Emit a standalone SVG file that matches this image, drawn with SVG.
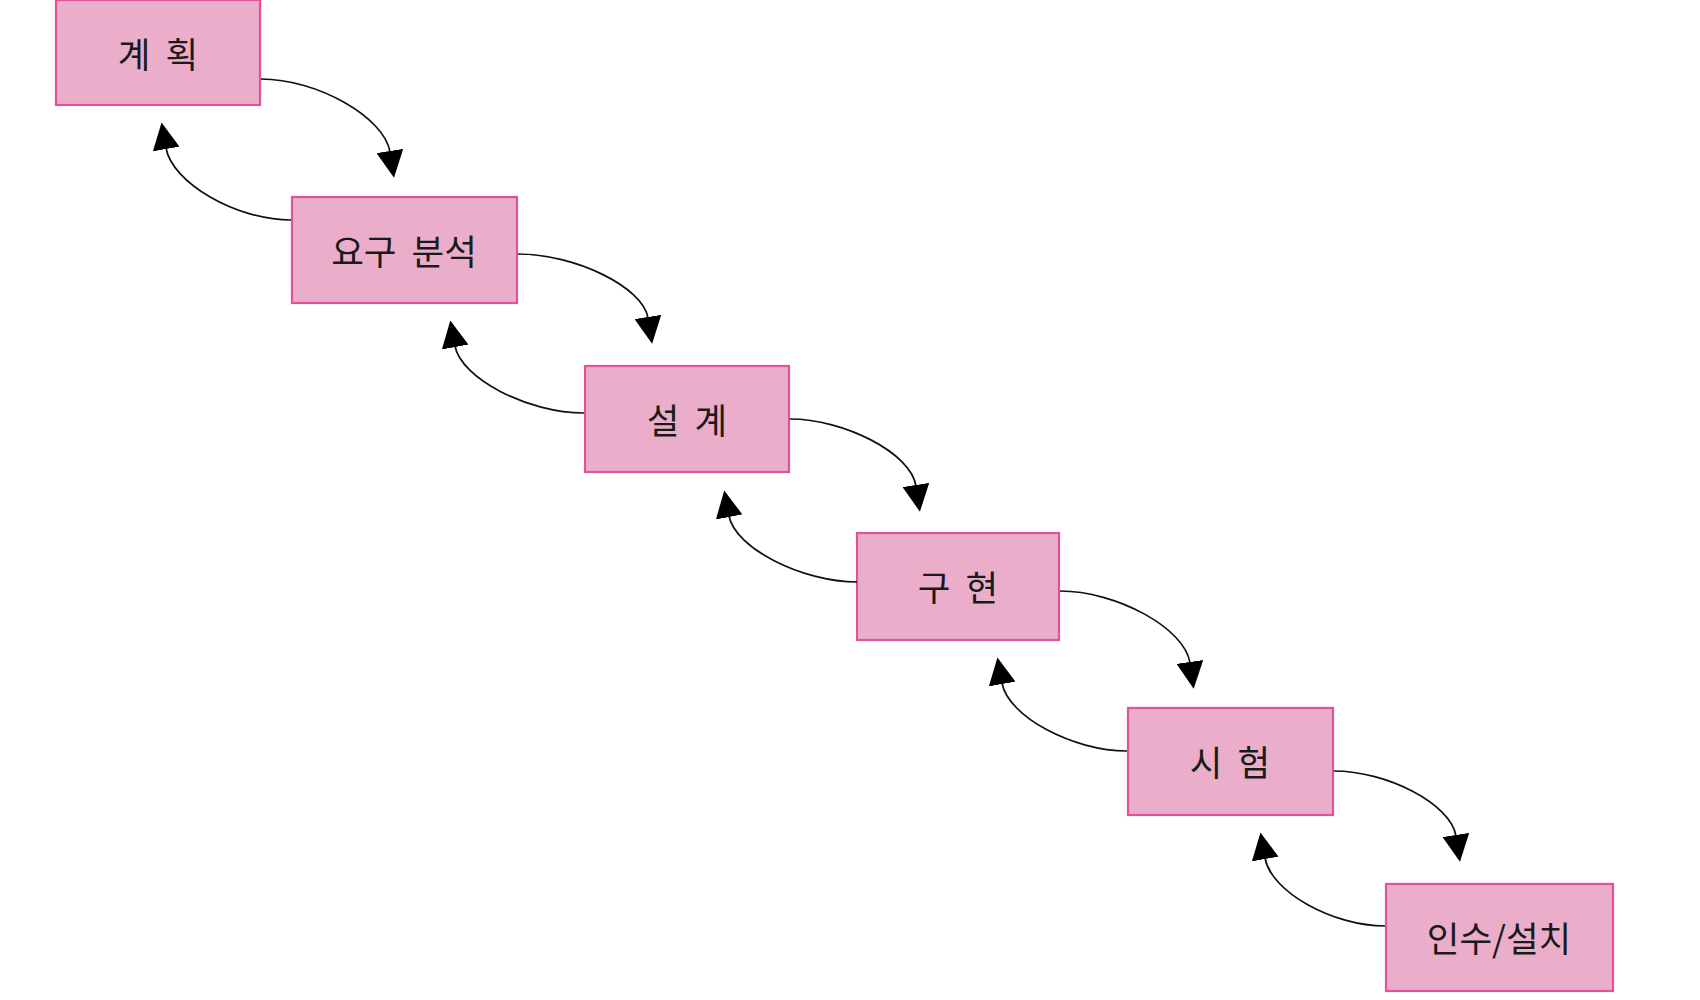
<svg xmlns="http://www.w3.org/2000/svg" width="1700" height="1000" viewBox="0 0 1700 1000">
  <style>
    .box { fill: #EAAECB; stroke: #E0529A; stroke-width: 2.2; }
    .lbl { font-family: "Noto Sans CJK KR", "Noto Sans", sans-serif; font-size: 35.5px; fill: #1a1a1a; text-anchor: middle; dominant-baseline: central; word-spacing: 7px; }
    .con { fill: none; stroke: #111; stroke-width: 1.7; marker-end: url(#arrow); }
  </style>
  <defs>
    <marker id="arrow" markerUnits="userSpaceOnUse" markerWidth="27" markerHeight="27" viewBox="0 0 26 26" refX="1" refY="13" orient="auto">
      <path d="M0,0 L26,13 L0,26 Z" fill="#000"/>
    </marker>
  </defs>
  <rect x="0" y="0" width="1700" height="1000" fill="#ffffff"/>

  <g id="node-plan">
    <rect class="box" x="56" y="0" width="204" height="105"/>
    <text class="lbl" x="158" y="52">계 획</text>
  </g>
  <g id="node-analysis">
    <rect class="box" x="292" y="197" width="225" height="106"/>
    <text class="lbl" x="404" y="249">요구 분석</text>
  </g>
  <g id="node-design">
    <rect class="box" x="585" y="366" width="204" height="106"/>
    <text class="lbl" x="687" y="418">설 계</text>
  </g>
  <g id="node-impl">
    <rect class="box" x="857" y="533" width="202" height="107"/>
    <text class="lbl" x="958" y="585">구 현</text>
  </g>
  <g id="node-test">
    <rect class="box" x="1128" y="708" width="205" height="107"/>
    <text class="lbl" x="1230" y="760">시 험</text>
  </g>
  <g id="node-install">
    <rect class="box" x="1386" y="884" width="227" height="107"/>
    <text class="lbl" x="1499" y="936">인수/설치</text>
  </g>

  <g id="connectors">
    <path class="con" d="M261,79 C317,79 384.6,117.4 390,152"/>
    <path class="con" d="M518,254 C575,254 643,287 648,318"/>
    <path class="con" d="M790,419 C844,419 911,453 916,486"/>
    <path class="con" d="M1060,591 C1116,591 1185,628 1190,663"/>
    <path class="con" d="M1334,771 C1387,771 1451,804 1456,836"/>

    <path class="con" d="M291,220 C236,220 172,182.5 166,148"/>
    <path class="con" d="M584,413 C528,413 461,378.5 455,346"/>
    <path class="con" d="M857,582 C802,582 735,548 729,516"/>
    <path class="con" d="M1127,751 C1073,751 1008,716.5 1002,683"/>
    <path class="con" d="M1385,926 C1333,926 1271,892 1265,858"/>
  </g>
</svg>
